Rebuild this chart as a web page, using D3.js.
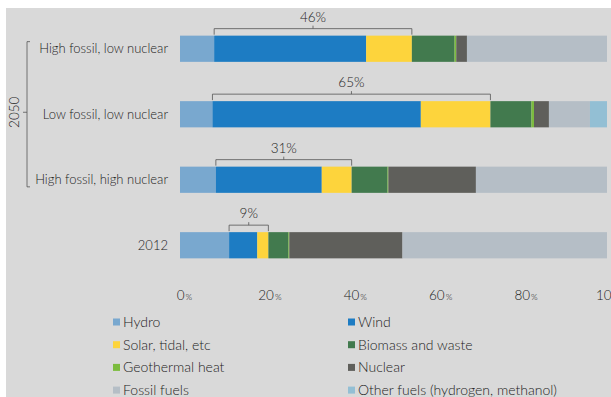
<!DOCTYPE html>
<html>
<head>
<meta charset="utf-8">
<script src="https://cdn.jsdelivr.net/npm/d3@7"></script>
<style>
  body { margin: 0; background: #fff; }
  svg { display: block; }
  text { font-family: Lato, "Open Sans", sans-serif; font-weight: 300; fill: #222; }
</style>
</head>
<body>
<script>
// data (share of energy, %)
var rows = ["High fossil, low nuclear", "Low fossil, low nuclear", "High fossil, high nuclear", "2012"];
var sources = ["Hydro", "Wind", "Solar, tidal, etc", "Biomass and waste", "Geothermal heat", "Nuclear", "Fossil fuels", "Other fuels (hydrogen, methanol)"];
var colors = ["#79a8cf", "#1d7cc3", "#fdd43c", "#427a4e", "#7cbc3e", "#5f5f5b", "#b5bec6", "#93bfd4"];
var hydro      = [8.0, 7.6, 8.4, 11.5];
var wind       = [35.6, 48.8, 24.8, 6.6];
var solar      = [10.7, 16.3, 7.0, 2.6];
var biomass    = [10.0, 9.6, 8.4, 4.7];
var geothermal = [0.4, 0.6, 0.2, 0.2];
var nuclear    = [2.5, 3.5, 20.5, 26.5];
var fossil     = [32.8, 9.6, 30.7, 47.9];
var other      = [0, 4.0, 0, 0];
var bracketLabels = ["46%", "65%", "31%", "9%"];
var ticks = [0, 20, 40, 60, 80, 100];

var width = 611, height = 397;

var svg = d3.select("body").append("svg")
    .attr("width", width)
    .attr("height", height);

svg.append("rect")
    .attr("x", 6).attr("y", 8)
    .attr("width", width - 6).attr("height", height - 8)
    .attr("fill", "#d9d9d9");

var table = rows.map(function(r, i) {
    return {row: r, Hydro: hydro[i], Wind: wind[i], "Solar, tidal, etc": solar[i],
        "Biomass and waste": biomass[i], "Geothermal heat": geothermal[i],
        Nuclear: nuclear[i], "Fossil fuels": fossil[i],
        "Other fuels (hydrogen, methanol)": other[i]};
});

var x = d3.scaleLinear().domain([0, 100]).range([180, 607]);
var y = d3.scaleBand().domain(rows).range([16, 278]).paddingInner(0.6).paddingOuter(0.3);
var color = d3.scaleOrdinal().domain(sources).range(colors);

var stack = d3.stack().keys(sources)(table);

svg.append("g")
    .selectAll("g")
    .data(stack)
    .enter().append("g")
    .attr("fill", function(d) { return color(d.key); })
    .selectAll("rect")
    .data(function(d) { return d; })
    .enter().append("rect")
    .attr("x", function(d) { return x(d[0]); })
    .attr("width", function(d) { return x(d[1]) - x(d[0]); })
    .attr("y", function(d) { return y(d.data.row); })
    .attr("height", y.bandwidth());

// row labels
svg.append("g")
    .selectAll("text")
    .data(rows)
    .enter().append("text")
    .attr("x", 168)
    .attr("y", function(d) { return y(d) + y.bandwidth() / 2; })
    .attr("dy", "0.35em")
    .attr("text-anchor", "end")
    .style("font-size", "13px")
    .text(function(d) { return d; });

// brackets over wind + solar
var br = svg.append("g");
table.forEach(function(d, i) {
    var x0 = x(d.Hydro), x1 = x(d.Hydro + d.Wind + d["Solar, tidal, etc"]);
    var yTop = y(d.row) - 7, yBot = y(d.row) - 1;
    br.append("path")
        .attr("d", "M" + x0 + "," + yBot + "V" + yTop + "H" + x1 + "V" + yBot
            + "M" + (x0 + x1) / 2 + "," + yTop + "v-3")
        .attr("fill", "none")
        .attr("stroke", "#555")
        .attr("stroke-width", 0.8);
    br.append("text")
        .attr("x", (x0 + x1) / 2)
        .attr("y", yTop - 7)
        .attr("text-anchor", "middle")
        .style("font-size", "13.5px")
        .text(bracketLabels[i]);
});

// 2050 group bracket
var gTop = y(rows[0]) + 6, gBot = y(rows[2]) + y.bandwidth() - 6;
var gMid = (y(rows[1]) + y.bandwidth() / 2);
svg.append("path")
    .attr("d", "M30," + gTop + "H27V" + gBot + "H30M27," + (gMid - 2) + "H23")
    .attr("fill", "none")
    .attr("stroke", "#555")
    .attr("stroke-width", 0.8);
svg.append("text")
    .attr("transform", "translate(14," + (gMid - 2) + ") rotate(-90)")
    .attr("text-anchor", "middle")
    .attr("dy", "0.35em")
    .style("font-size", "13.5px")
    .text("2050");

// x axis labels
var ax = svg.append("g")
    .attr("transform", "translate(0,295)")
    .call(d3.axisBottom(x).tickValues(ticks).tickSize(0).tickFormat(""));
ax.select(".domain").remove();
ax.selectAll(".tick").append("text")
    .attr("x", 4)
    .attr("dy", "0.35em")
    .attr("text-anchor", "middle")
    .style("font-size", "13.5px")
    .each(function(d) {
        var t = d3.select(this);
        t.append("tspan").text(d);
        t.append("tspan").style("font-size", "8.5px").attr("dx", 1).text("%");
    });

// legend
var legend = svg.append("g")
    .selectAll("g")
    .data(sources)
    .enter().append("g")
    .attr("transform", function(d, i) {
        return "translate(" + (i % 2 ? 348 : 113) + "," + (322 + Math.floor(i / 2) * 22.7) + ")";
    });
legend.append("rect")
    .attr("y", -3.5)
    .attr("width", 7).attr("height", 7)
    .attr("fill", function(d) { return color(d); });
legend.append("text")
    .attr("x", 10)
    .attr("dy", "0.35em")
    .style("font-size", "14px")
    .text(function(d) { return d; });
</script>
</body>
</html>
